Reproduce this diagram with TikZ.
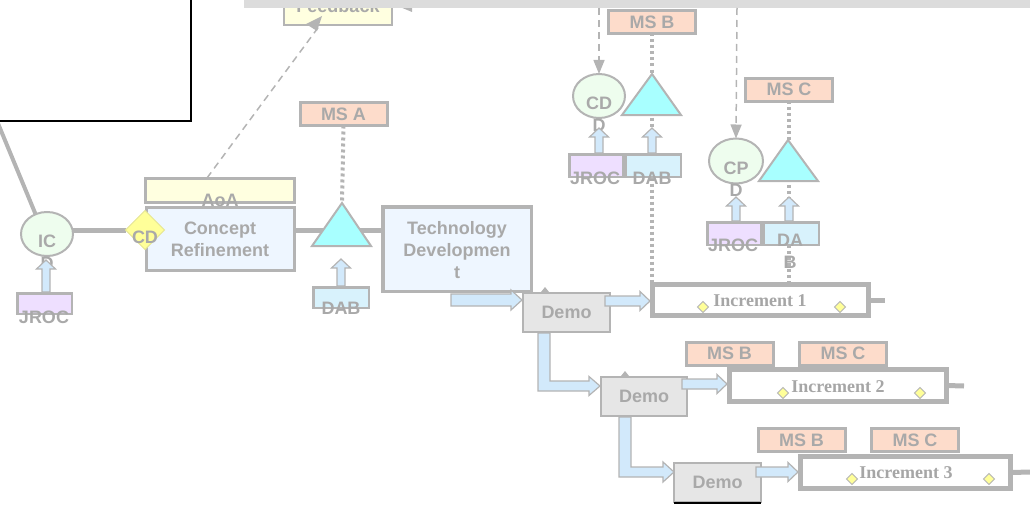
\documentclass[tikz,border=0pt]{standalone}
\usepackage{fontspec}
\setmainfont{Liberation Sans}
\newfontfamily\serifb{Liberation Serif}
\usetikzlibrary{arrows.meta,shapes.geometric,backgrounds}
\definecolor{gstroke}{HTML}{B4B4B4}
\definecolor{gtext}{HTML}{A9A9A9}
\definecolor{gtextd}{HTML}{A6A6A6}
\definecolor{msfill}{HTML}{FDDCCB}
\definecolor{aoafill}{HTML}{FFFFE0}
\definecolor{conceptfill}{HTML}{EEF6FF}
\definecolor{trifill}{HTML}{A8FFFF}
\definecolor{dabfill}{HTML}{D8F2FC}
\definecolor{jrocfill}{HTML}{EEDFFF}
\definecolor{ellfill}{HTML}{EEFDEE}
\definecolor{diafill}{HTML}{FFFF99}
\definecolor{demofill}{HTML}{E6E6E6}
\definecolor{blkfill}{HTML}{D2E9FB}
\definecolor{barfill}{HTML}{DCDCDC}
\newcommand\UpBlk[3]{\filldraw[blk] (#1-4,#2) -- (#1-4,#3+9) -- (#1-9.5,#3+9) -- (#1,#3) -- (#1+9.5,#3+9) -- (#1+4,#3+9) -- (#1+4,#2) -- cycle;}
\newcommand\RtBlk[3]{\filldraw[blk] (#1,#3-5) -- (#2-10,#3-5) -- (#2-10,#3-9.5) -- (#2,#3) -- (#2-10,#3+9.5) -- (#2-10,#3+5) -- (#1,#3+5) -- cycle;}
\begin{document}
\begin{tikzpicture}[x=1pt,y=-1pt]
\tikzset{
 every node/.style={inner sep=0pt, outer sep=0pt},
 lbl/.style={text=gtext, font=\fontsize{18}{22}\selectfont\bfseries, align=center},
 incl/.style={text=gtextd, font=\serifb\fontsize{18}{22}\selectfont\bfseries},
 msbox/.style={draw=gstroke, line width=3pt, fill=msfill, minimum width=87pt, minimum height=23pt, lbl},
 smbox/.style={draw=gstroke, line width=2.5pt, minimum height=20.5pt},
 ell/.style={ellipse, draw=gstroke, line width=2pt, fill=ellfill},
 tri/.style={draw=gstroke, line width=2pt, fill=trifill},
 blk/.style={draw=gstroke, line width=1.2pt, fill=blkfill},
 demobox/.style={draw=gstroke, line width=2pt, fill=demofill, minimum width=87pt, minimum height=39pt, lbl},
 incbox/.style={draw=gstroke, line width=5pt, fill=white, minimum height=31pt},
 dashln/.style={draw=gstroke, line width=1.5pt, dash pattern=on 7pt off 5pt},
 dotln/.style={draw=gstroke, line width=4pt, dash pattern=on 3pt off 3pt},
 mainln/.style={draw=gstroke, line width=5pt},
 ydia/.style={diamond, draw=gstroke, line width=0.8pt, fill=diafill, minimum size=11pt},
 bigbox/.style={draw=gstroke, line width=3pt, fill=conceptfill},
}
\useasboundingbox (0,0) rectangle (1030,511);
\clip (0,0) rectangle (1030,511);

% top-left frame
\node[draw=black, line width=2pt, fill=white, minimum width=206pt, minimum height=136pt, anchor=south east] (frame) at (191,121) {};

% Feedback box
\node[draw=gstroke, line width=2.5pt, fill=aoafill, minimum width=108pt, minimum height=34pt] (fb) at (338,8) {};
\node[lbl] (fbt) at (338,6) {Feedback};
\fill[gstroke] (400,7) -- (412,2) -- (412,12) -- cycle;
\node[fill=barfill, minimum width=786pt, minimum height=8pt, anchor=north west] (bar) at (244,0) {};
\coordinate (topB) at (599,8);
\coordinate (topC) at (737,8);

% MS boxes
\node[msbox] (msA) at (343.5,114) {MS A};
\node[msbox] (msB) at (652,22) {MS B};
\node[msbox] (msC) at (789,89.5) {MS C};
\node[msbox] (msB2) at (729.5,353.5) {MS B};
\node[msbox] (msC2) at (843,353.5) {MS C};
\node[msbox] (msB3) at (801.5,440) {MS B};
\node[msbox] (msC3) at (915,440) {MS C};

% AoA and Concept refinement
\node[draw=gstroke, line width=3pt, fill=aoafill, minimum width=149pt, minimum height=24pt] (aoa) at (220,190) {};
\node[lbl] (aoat) at (220,200) {AoA};
\node[bigbox, minimum width=148pt, minimum height=63pt] (concept) at (220.5,239) {};
\node[lbl] (conceptt) at (220,239) {Concept\\Refinement};
\node[diamond, draw=diafill!80!gray, line width=1pt, fill=diafill, minimum width=39pt, minimum height=39pt] (cd) at (145,230) {};
\node[lbl] (cdt) at (145,237) {CD};

% IC
\node[ell, minimum width=52pt, minimum height=44pt] (ic) at (47,234) {};
\node[lbl] (ict) at (47,252) {IC\\D};
\node[smbox, fill=jrocfill, minimum width=54.5pt] (jroc1) at (44.5,303.5) {};
\node[lbl] (jroc1t) at (44,317) {JROC};
\UpBlk{46}{292}{260}

% Triangle A and DAB
\coordinate (triA) at (342,203);
\coordinate (triAl) at (312,246);
\coordinate (triAr) at (371,246);
\filldraw[tri] (triA) -- (triAr) -- (triAl) -- cycle;
\node[smbox, fill=dabfill, minimum width=55.5pt] (dabA) at (341,297.5) {};
\node[lbl] (dabAt) at (341,308) {DAB};
\UpBlk{341}{286}{259}

% Technology development
\node[bigbox, line width=3.5pt, minimum width=148.5pt, minimum height=84.5pt] (tech) at (457,249) {};
\node[lbl] (techt) at (457,250.5) {Technology\\Developmen\\t};

% CDD group
\node[ell, minimum width=52pt, minimum height=44pt] (cdd) at (599,96) {};
\node[lbl] (cddt) at (599,114) {CD\\D};
\coordinate (triB) at (652,74);
\coordinate (triBl) at (622,115);
\coordinate (triBr) at (681,115);
\node[smbox, fill=jrocfill, minimum width=53.5pt, minimum height=22.5pt] (jrocB) at (596,165.5) {};
\node[smbox, fill=dabfill, minimum width=55.5pt, minimum height=22.5pt] (dabB) at (653,165.5) {};
\node[lbl] (jrocBt) at (595,178) {JROC};
\node[lbl] (dabBt) at (652,178) {DAB};

% CPD group
\node[ell, minimum width=54pt, minimum height=45pt] (cpd) at (736,161) {};
\node[lbl] (cpdt) at (736,179) {CP\\D};
\coordinate (triC) at (788,140);
\coordinate (triCl) at (759,181);
\coordinate (triCr) at (818,181);
\node[smbox, fill=jrocfill, minimum width=53.5pt, minimum height=22.5pt] (jrocC) at (734,233.5) {};
\node[smbox, fill=dabfill, minimum width=55.5pt, minimum height=22.5pt] (dabC) at (791,233.5) {};
\node[lbl] (jrocCt) at (733,245) {JROC};
\node[lbl] (dabCt) at (790,251) {DA\\B};

% Increments
\node[incbox, minimum width=216pt] (inc1) at (760.5,300) {};
\node[incl] (inc1t) at (760,301) {Increment 1};
\node[incbox, minimum width=217pt, minimum height=32pt] (inc2) at (838,385.5) {};
\node[incl] (inc2t) at (838,387) {Increment 2};
\node[incbox, minimum width=210pt, minimum height=32pt] (inc3) at (905.5,472.5) {};
\node[incl] (inc3t) at (906,473) {Increment 3};
\node[ydia] (d1a) at (703,307) {};
\node[ydia] (d1b) at (840,307) {};
\node[ydia] (d2a) at (783,393) {};
\node[ydia] (d2b) at (920,393) {};
\node[ydia] (d3a) at (852,479) {};
\node[ydia] (d3b) at (989,479) {};
\coordinate (tail1) at (885,300);
\coordinate (tail2) at (964,386);
\coordinate (tail3) at (1031,472);

% Demos
\filldraw[blk] (451,294) -- (451,306) -- (511,306) -- (511,310) -- (522,300) -- (511,290) -- (511,294) -- cycle;
\node[demobox] (demo1) at (566.5,312) {Demo};
\node[demobox, minimum width=86pt] (demo2) at (644,396.5) {Demo};
\node[demobox] (demo3) at (717.5,482.5) {Demo};
\fill[gstroke] (541,292) -- (549,292) -- (545,287) -- cycle;
\fill[gstroke] (621,376) -- (629,376) -- (625,371) -- cycle;
\draw[black, line width=1.3pt] ([yshift=-1pt]demo3.south west) -- ([yshift=-1pt]demo3.south east);
\filldraw[blk] (538,333) -- (538,391) -- (589,391) -- (589,395.5) -- (600,386) -- (589,376.5) -- (589,381) -- (550,381) -- (550,333) -- cycle;
\filldraw[blk] (619,417) -- (619,477) -- (663,477) -- (663,482) -- (674,472) -- (663,462) -- (663,467) -- (631,467) -- (631,417) -- cycle;
\RtBlk{605}{650}{301}
\RtBlk{682}{727}{384}
\RtBlk{756}{798}{472}

% triangles on top
\filldraw[tri] (triB) -- (triBr) -- (triBl) -- cycle;
\filldraw[tri] (triC) -- (triCr) -- (triCl) -- cycle;
\UpBlk{599}{153}{128}
\UpBlk{652}{153}{128}
\UpBlk{736}{221}{197}
\UpBlk{789}{221}{197}

\begin{scope}[on background layer]
\coordinate (tl) at (-3,121);
\draw[gstroke, line width=4pt] (tl) -- (ic.120);
\draw[mainln] (ic.east |- 0,230) -- (cd.west);
\draw[mainln] (concept.east |- 0,230) -- (tech.west |- 0,230);
\draw[dotln] (msA.south) -- (triA);
\draw[dotln] (msB.south) -- (msB.south |- inc1.north);
\draw[dotln] (msC.south) -- (msC.south |- inc1.north);
\draw[dashln] (aoa.north -| 207,0) -- (fb.south -| 320,0);
\draw[mainln] (inc1.east) -- (tail1);
\draw[mainln] (inc2.east) -- (tail2);
\draw[mainln] (inc3.east) -- (tail3);
\end{scope}
\fill[gstroke] (322,16) -- (317,31) -- (306,24) -- cycle;
\draw[dashln, -{Triangle[width=11pt,length=14pt]}] (topB) -- (cdd.north);
\draw[dashln, -{Triangle[width=11pt,length=14pt]}] (topC) -- (cpd.north);
\end{tikzpicture}
\end{document}
